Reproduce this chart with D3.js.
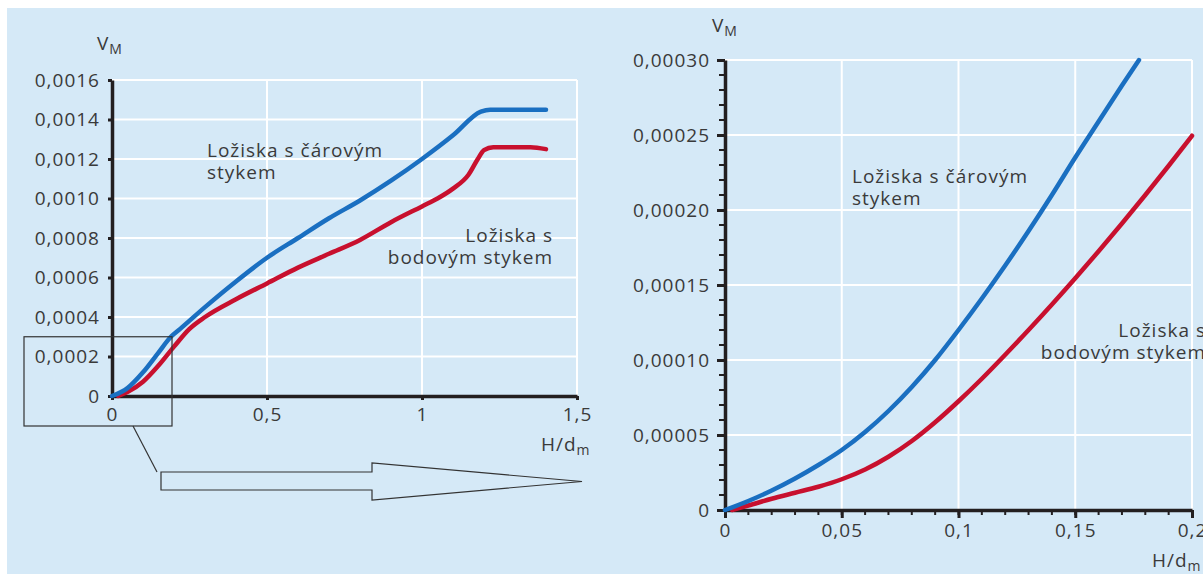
<!DOCTYPE html>
<html>
<head>
<meta charset="utf-8">
<script src="https://cdn.jsdelivr.net/npm/d3@7"></script>
<style>
  body { margin: 0; background: #fff; }
  svg text { font-family: "Open Sans", sans-serif; fill: #3a3a3a; letter-spacing: 1px; }
</style>
</head>
<body>
<div id="chart"></div>
<script>
// left chart: whole range
const leftX = [0, 0.05, 0.1, 0.15, 0.19, 0.22, 0.3, 0.4, 0.5, 0.6, 0.7, 0.8, 0.9, 1.0, 1.1, 1.19, 1.22, 1.4];
const leftBlue = [0, 0.00004, 0.00012, 0.00022, 0.0003, 0.00034, 0.00045, 0.00058, 0.0007, 0.0008, 0.0009, 0.00099, 0.00109, 0.0012, 0.00132, 0.00144, 0.00145, 0.00145];
const leftRedX = [0.02, 0.05, 0.1, 0.15, 0.2, 0.25, 0.3, 0.4, 0.5, 0.6, 0.7, 0.8, 0.9, 1.0, 1.05, 1.1, 1.15, 1.18, 1.2, 1.23, 1.35, 1.4];
const leftRed = [0, 0.00002, 0.000072, 0.000154, 0.00025, 0.00034, 0.0004, 0.00049, 0.00057, 0.00065, 0.00072, 0.00079, 0.00088, 0.00096, 0.001, 0.00105, 0.00112, 0.0012, 0.001245, 0.00126, 0.00126, 0.00125];

// right chart: zoom on 0 .. 0.2
const rightBlueX = [0, 0.01, 0.02, 0.03, 0.04, 0.05, 0.06, 0.07, 0.08, 0.09, 0.1, 0.11, 0.12, 0.13, 0.14, 0.15, 0.16, 0.17, 0.1773];
const rightBlue = [0, 0.000006, 0.000013, 0.000021, 0.00003, 0.00004, 0.000052, 0.000066, 0.000082, 0.0001, 0.00012, 0.000141, 0.000163, 0.000186, 0.00021, 0.000235, 0.000259, 0.000283, 0.0003];
const rightRedX = [0.003, 0.01, 0.02, 0.03, 0.04, 0.05, 0.06, 0.07, 0.08, 0.09, 0.1, 0.11, 0.12, 0.13, 0.14, 0.15, 0.16, 0.17, 0.18, 0.19, 0.2];
const rightRed = [0, 0.000003, 0.0000075, 0.0000115, 0.0000155, 0.0000205, 0.000027, 0.0000355, 0.000046, 0.0000585, 0.0000725, 0.0000875, 0.0001035, 0.00012, 0.000137, 0.0001545, 0.0001725, 0.000191, 0.00021, 0.0002295, 0.0002495];

const leftYTicks = [0, 0.0002, 0.0004, 0.0006, 0.0008, 0.001, 0.0012, 0.0014, 0.0016];
const leftYLabels = ["0", "0,0002", "0,0004", "0,0006", "0,0008", "0,0010", "0,0012", "0,0014", "0,0016"];
const leftXTicks = [0, 0.5, 1, 1.5];
const leftXLabels = ["0", "0,5", "1", "1,5"];
const rightYTicks = [0, 0.00005, 0.0001, 0.00015, 0.0002, 0.00025, 0.0003];
const rightYLabels = ["0", "0,00005", "0,00010", "0,00015", "0,00020", "0,00025", "0,00030"];
const rightXTicks = [0, 0.05, 0.1, 0.15, 0.2];
const rightXLabels = ["0", "0,05", "0,1", "0,15", "0,2"];

const lineLabel = ["Ložiska s čárovým", "stykem"];
const pointLabel = ["Ložiska s", "bodovým stykem"];

const width = 1203;
const height = 574;
const blue = "#1a6fc1";
const red = "#c8102e";
const fontSize = 19;

const svg = d3.create("svg")
    .attr("width", width)
    .attr("height", height)

svg.append("rect")
    .attr("x", 7).attr("y", 8)
    .attr("width", width - 7).attr("height", height - 8)
    .attr("fill", "#d5e9f7")

const xL = d3.scaleLinear([0, 1.5], [112, 577]);
const yL = d3.scaleLinear([0, 0.0016], [396, 80]);
const xR = d3.scaleLinear([0, 0.2], [725, 1192]);
const yR = d3.scaleLinear([0, 0.0003], [510, 60]);

function drawPanel(x, y, xTicks, xLabels, yTicks, yLabels, opts) {
    const g = svg.append("g");
    // grid
    g.append("g")
        .selectAll("line")
        .data(yTicks.slice(1))
        .join("line")
        .attr("x1", x.range()[0]).attr("x2", x.range()[1])
        .attr("y1", d => y(d)).attr("y2", d => y(d))
        .attr("stroke", "#fff").attr("stroke-width", 2)
    g.append("g")
        .selectAll("line")
        .data(opts.vGrid)
        .join("line")
        .attr("x1", d => x(d)).attr("x2", d => x(d))
        .attr("y1", y.range()[0]).attr("y2", y.range()[1])
        .attr("stroke", "#fff").attr("stroke-width", 2)

    // minor ticks
    if (opts.minorX) {
        g.append("g").selectAll("line")
            .data(opts.minorX)
            .join("line")
            .attr("x1", d => x(d)).attr("x2", d => x(d))
            .attr("y1", y(0)).attr("y2", y(0) + 5)
            .attr("stroke", "#231f20").attr("stroke-width", 2)
    }
    if (opts.minorY) {
        g.append("g").selectAll("line")
            .data(opts.minorY)
            .join("line")
            .attr("x1", x(0) - 6).attr("x2", x(0))
            .attr("y1", d => y(d)).attr("y2", d => y(d))
            .attr("stroke", "#231f20").attr("stroke-width", 2)
    }

    const xAxis = g.append("g")
        .attr("transform", `translate(0,${y(0)})`)
        .call(d3.axisBottom(x).tickValues(xTicks).tickFormat((d, i) => xLabels[i])
            .tickSize(opts.tick).tickSizeOuter(0).tickPadding(opts.xPad))
    const yAxis = g.append("g")
        .attr("transform", `translate(${x(0)},0)`)
        .call(d3.axisLeft(y).tickValues(yTicks).tickFormat((d, i) => yLabels[i])
            .tickSize(opts.tick).tickSizeOuter(0).tickPadding(opts.yPad))

    for (const a of [xAxis, yAxis]) {
        a.select(".domain").attr("stroke", "#231f20").attr("stroke-width", 3.5)
        a.selectAll(".tick line").attr("stroke", "#231f20").attr("stroke-width", 3)
        a.selectAll(".tick text")
            .attr("font-size", fontSize)
            .attr("font-family", "Open Sans")
            .attr("fill", "#3a3a3a")
    }
    return g;
}

drawPanel(xL, yL, leftXTicks, leftXLabels, leftYTicks, leftYLabels, {
    vGrid: [0.5, 1, 1.5], tick: 4, xPad: 8, yPad: 8
})
drawPanel(xR, yR, rightXTicks, rightXLabels, rightYTicks, rightYLabels, {
    vGrid: [0.05, 0.1, 0.15, 0.2], tick: 8, xPad: 6, yPad: 7,
    minorX: d3.range(1, 20).map(i => i / 100),
    minorY: d3.range(1, 30).map(i => i / 100000)
})

function drawLine(x, y, xs, ys, color) {
    const line = d3.line()
        .x(d => x(d[0]))
        .y(d => y(d[1]))
        .curve(d3.curveMonotoneX)
    svg.append("path")
        .datum(xs.map((v, i) => [v, ys[i]]))
        .attr("d", line)
        .attr("fill", "none")
        .attr("stroke", color)
        .attr("stroke-width", 4.5)
        .attr("stroke-linecap", "round")
}

drawLine(xL, yL, leftRedX, leftRed, red)
drawLine(xL, yL, leftX, leftBlue, blue)
drawLine(xR, yR, rightRedX, rightRed, red)
drawLine(xR, yR, rightBlueX, rightBlue, blue)

// text labels, one text per line
function textBlock(lines, x, y, anchor) {
    svg.append("g")
        .selectAll("text")
        .data(lines)
        .join("text")
        .attr("font-size", fontSize)
        .attr("text-anchor", anchor)
        .attr("x", x)
        .attr("y", (d, i) => y + i * 22)
        .text(d => d)
}
textBlock(lineLabel, 207, 157, "start")
textBlock(pointLabel, 553, 242, "end")
textBlock(lineLabel, 852, 183, "start")
textBlock(pointLabel, 1206, 337, "end")

function subLabel(main, sub, x, y) {
    const t = svg.append("text")
        .attr("x", x).attr("y", y)
        .attr("font-size", fontSize)
    t.append("tspan").text(main)
    t.append("tspan").attr("font-size", 14).attr("dy", 4).text(sub)
}
subLabel("V", "M", 97, 50)
subLabel("V", "M", 712, 32)
subLabel("H/d", "m", 541, 451)
subLabel("H/d", "m", 1152, 567)

// zoom box and arrow
svg.append("rect")
    .attr("x", xL(0) - 88).attr("y", yL(0.0003))
    .attr("width", xL(0.2) - 2 - (xL(0) - 88))
    .attr("height", yL(0) + 30 - yL(0.0003))
    .attr("fill", "none").attr("stroke", "#333").attr("stroke-width", 1.2)
svg.append("line")
    .attr("x1", 133).attr("y1", yL(0) + 30)
    .attr("x2", 157).attr("y2", 472)
    .attr("stroke", "#333").attr("stroke-width", 1.2)
svg.append("path")
    .attr("d", d3.line()([[161, 472], [372, 472], [372, 463], [582, 481.5], [372, 500], [372, 490], [161, 490]]) + "Z")
    .attr("fill", "none").attr("stroke", "#333").attr("stroke-width", 1.2)

d3.select("#chart").node().append(svg.node())
</script>
</body>
</html>
